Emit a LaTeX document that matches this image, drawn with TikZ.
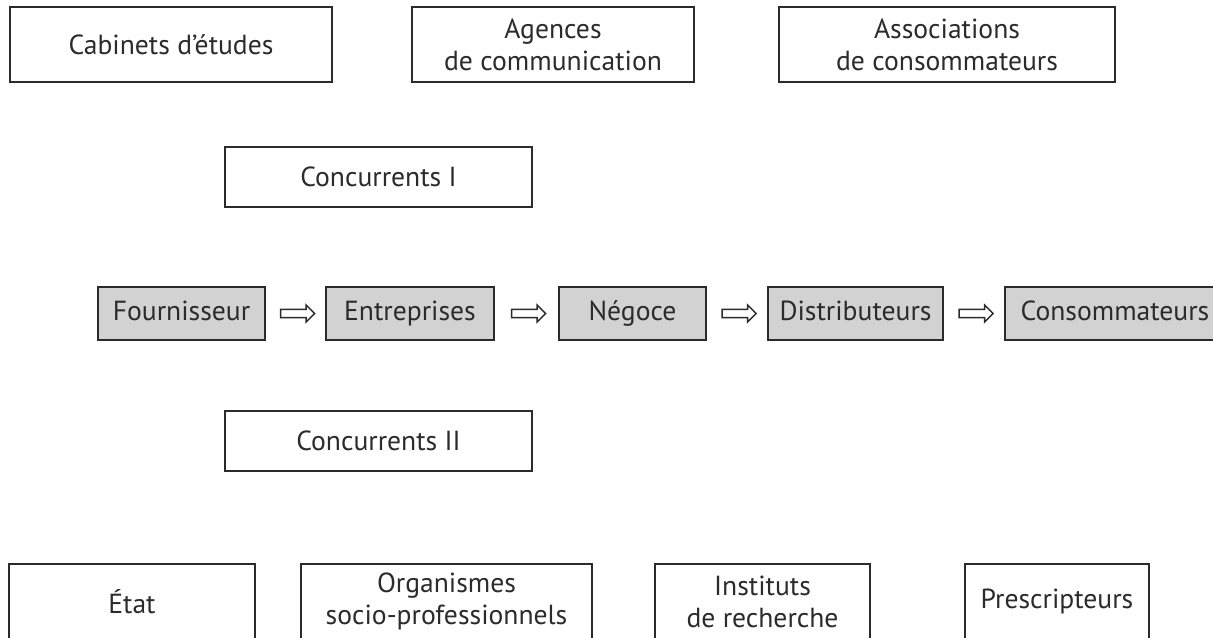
\documentclass[tikz,border=0pt]{standalone}
\usepackage{fontspec}
\setmainfont{PT Sans}
\usetikzlibrary{shapes.arrows}
\definecolor{ink}{HTML}{2B2B2B}
\definecolor{boxfill}{HTML}{D2D2D2}
\begin{document}
\begin{tikzpicture}[x=0.5pt,y=-0.5pt,
  box/.style={draw=ink,line width=0.9pt,rectangle,inner sep=0pt,align=center,
    text=ink,font=\fontsize{13.8pt}{16pt}\selectfont},
  chain/.style={box,fill=boxfill,text height=10pt,text depth=3pt},
  flowarrow/.style={single arrow,draw=ink,line width=0.7pt,fill=white,
    inner sep=1.7pt,single arrow head extend=2.2pt,minimum height=17pt,
    single arrow head indent=0pt}
]
\useasboundingbox (0,0) rectangle (1213,637);

% actors around the chain
\node[box,minimum width=161pt,minimum height=37.5pt] (cab)  at (171,44.5) {Cabinets d’études};
\node[box,minimum width=141pt,minimum height=37.5pt] (age)  at (553,44.5) {Agences\\de communication};
\node[box,minimum width=168pt,minimum height=37.5pt] (asso) at (947,44.5) {Associations\\de consommateurs};

\node[box,minimum width=153.5pt,minimum height=30pt] (conc1) at (378.5,177) {Concurrents I};
\node[box,minimum width=153.5pt,minimum height=30pt] (conc2) at (378.5,441) {Concurrents II};

% main chain
\node[chain,minimum width=83.5pt,minimum height=26.5pt] (four) at (181.5,313.5) {Fournisseur};
\node[chain,minimum width=84pt,minimum height=26.5pt]   (entr) at (410,313.5)   {Entreprises};
\node[chain,minimum width=73.5pt,minimum height=26.5pt] (neg)  at (632.5,313.5) {Négoce};
\node[chain,minimum width=87.5pt,minimum height=26.5pt] (dist) at (855.5,313.5) {Distributeurs};
\node[chain,minimum width=110pt,minimum height=26.5pt]  (cons) at (1115,313.5)  {Consommateurs};

\path (four) -- node[flowarrow]{} (entr);
\path (entr) -- node[flowarrow]{} (neg);
\path (neg)  -- node[flowarrow]{} (dist);
\path (dist) -- node[flowarrow]{} (cons);

% institutional actors
\node[box,minimum width=123pt,minimum height=37.5pt]   (etat) at (132,601.5)   {État};
\node[box,minimum width=145.5pt,minimum height=37.5pt] (org)  at (446.5,601.5) {Organismes\\socio-professionnels};
\node[box,minimum width=107.5pt,minimum height=37.5pt] (inst) at (762.5,601.5) {Instituts\\de recherche};
\node[box,minimum width=92pt,minimum height=37.5pt]    (pres) at (1057,601.5)  {Prescripteurs};
\end{tikzpicture}
\end{document}
